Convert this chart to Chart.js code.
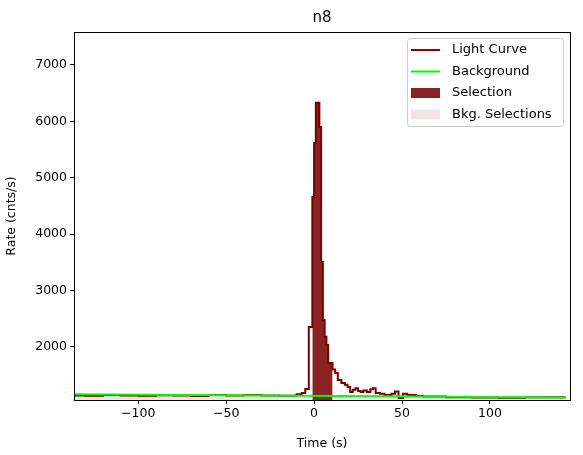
<!DOCTYPE html>
<html>
<head>
<meta charset="utf-8">
<script src="https://cdn.jsdelivr.net/npm/chart.js@4"></script>
<style>
body{margin:0;background:#fff}
#wrap{width:583px;height:455px}
</style>
</head>
<body>
<div id="wrap"><canvas id="cv"></canvas></div>
<script>
// bin start times (s) and rates (cnts/s), last edge repeats last value
let tStart = [-137,-130,-120,-110,-100,-90,-80,-70,-60,-50,-40,-30,-20,-10,-7,-5,-3,
  -1,0,1,2,3,4,5,6,7,8,9,10.5,12,13.5,15.5,17.5,19,20.5,22,23.5,25,26.5,28,30,32,33.5,35,37.5,40,44,46,48,50.5,53,58,
  62,75,90,105,120,135,143];
let rates = [1160,1140,1135,1150,1140,1135,1145,1140,1130,1150,1140,1150,1140,1135,1160,1185,1255,
  2355,4660,5617,6330,6330,5900,3507,2480,2180,2035,1716,1716,1600,1539,1415,1360,1330,1290,1200,1240,1270,1220,1200,1230,1200,1250,1270,1185,1170,1150,1170,1210,1095,1170,1150,
  1130,1120,1110,1105,1100,1110,1110];
let selRange = [-1, 10.5];
let bkgRanges = [[-137,-20],[60,143]];
let bkgLine = [[-137,1160],[143,1105]];
let xTicks = [-100,-50,0,50,100];
let yTicks = [2000,3000,4000,5000,6000,7000];

function pts(){ return tStart.map((t,i)=>({x:t,y:rates[i]})); }
function sub(a,b){
  let out = [];
  for(let i=0;i<tStart.length;i++){
    if(tStart[i]>=a && tStart[i]<b) out.push({x:tStart[i],y:rates[i]});
  }
  out.push({x:b,y:out[out.length-1].y});
  return out;
}

let legendItems = [
  {label:'Light Curve',type:'line',color:'#8b0000'},
  {label:'Background',type:'line',color:'#00ff00'},
  {label:'Selection',type:'box',color:'#8b2323'},
  {label:'Bkg. Selections',type:'box',color:'rgba(205,150,150,0.25)'}
];

let extras = {
  id:'extras',
  afterDraw(chart){
    let c = chart.ctx, a = chart.chartArea;
    c.save();
    c.strokeStyle='#000';c.lineWidth=1;
    c.strokeRect(a.left+0.5,a.top+0.5,a.right-a.left,a.bottom-a.top);
    c.fillStyle='#000';c.font='15px "DejaVu Sans"';c.textAlign='center';c.textBaseline='bottom';
    c.fillText('n8',(a.left+a.right)/2,a.top-6);
    // legend
    let x0=407,y0=38,w=156,h=88;
    c.fillStyle='rgba(255,255,255,0.8)';c.strokeStyle='#ccc';c.lineWidth=1;
    c.beginPath();c.roundRect(x0+0.5,y0+0.5,w,h,3);c.fill();c.stroke();
    c.font='13px "DejaVu Sans"';c.textAlign='left';c.textBaseline='middle';
    legendItems.forEach((it,i)=>{
      let y=y0+12+i*21.5;
      if(it.type==='line'){c.strokeStyle=it.color;c.lineWidth=2;c.beginPath();c.moveTo(411,y);c.lineTo(440,y);c.stroke();}
      else{c.fillStyle=it.color;c.fillRect(411,y-5,29,10);}
      c.fillStyle='#000';c.fillText(it.label,452,y);
    });
    c.restore();
  }
};

let datasets = [
  {data:bkgLine.map(p=>({x:p[0],y:p[1]})),borderColor:'#00ff00',borderWidth:2,pointRadius:0,order:0},
  {data:pts(),borderColor:'#7a0000',borderWidth:2,pointRadius:0,stepped:'after',order:1},
  {data:sub(selRange[0],selRange[1]),borderWidth:0,backgroundColor:'#8b2323',fill:'start',pointRadius:0,stepped:'after',order:2}
];
bkgRanges.forEach(r=>datasets.push({data:sub(r[0],r[1]),borderWidth:0,backgroundColor:'rgba(205,150,150,0.25)',fill:'start',pointRadius:0,stepped:'after',order:3}));

new Chart(document.getElementById('cv'),{
  type:'line',
  data:{datasets:datasets},
  options:{
    responsive:true,maintainAspectRatio:false,animation:false,
    layout:{padding:{top:32,right:13,left:0,bottom:0}},
    plugins:{legend:{display:false},tooltip:{enabled:false}},
    scales:{
      x:{type:'linear',min:-136.5,max:145.5,
        afterBuildTicks(s){s.ticks=xTicks.map(v=>({value:v}));},
        afterFit(s){s.height=55;},
        grid:{drawOnChartArea:false,tickLength:4,color:'#000'},border:{color:'#000'},
        ticks:{color:'#000',font:{size:12.5,family:'DejaVu Sans'},padding:2,callback:v=>v<0?'\u2212'+(-v):String(v)},
        title:{display:true,text:'Time (s)',color:'#000',font:{size:12.5,family:'DejaVu Sans'},padding:{top:0}}},
      y:{min:1060,max:7585,
        afterBuildTicks(s){s.ticks=yTicks.map(v=>({value:v}));},
        afterFit(s){s.width=74;},
        grid:{drawOnChartArea:false,tickLength:4,color:'#000'},border:{color:'#000'},
        ticks:{color:'#000',font:{size:12.5,family:'DejaVu Sans'},callback:v=>String(v)},
        title:{display:true,text:'Rate (cnts/s)',color:'#000',font:{size:12.5,family:'DejaVu Sans'},padding:{bottom:4}}}
    }
  },
  plugins:[extras]
});
</script>
</body>
</html>
